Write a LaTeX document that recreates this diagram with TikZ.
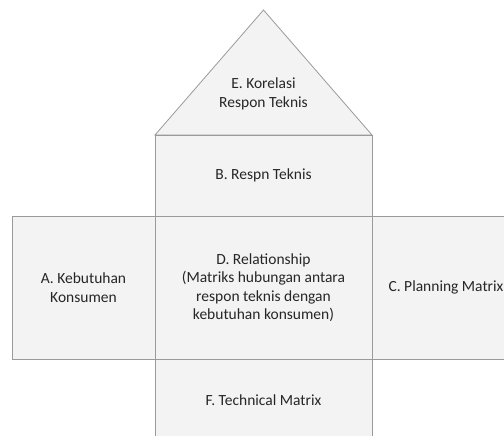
\documentclass[tikz,border=0pt]{standalone}
\usepackage{fontspec}
\setmainfont{Carlito}
\usetikzlibrary{positioning}
\definecolor{HQLine}{HTML}{9A9A9A}
\definecolor{HQFill}{HTML}{F3F3F3}
\definecolor{HQText}{HTML}{262626}

\begin{document}
\begin{tikzpicture}[x=1pt,y=-1pt]
\useasboundingbox (0,0) rectangle (504,436);
\tikzset{hqbox/.style={draw=HQLine,fill=HQFill,line width=0.8pt,outer sep=0pt,inner sep=0pt,align=center,text=HQText,font=\fontsize{15.5}{18.5}\selectfont}}
\node[hqbox,minimum width=217pt,minimum height=143pt] (rel) at (263.5,287.5) {D. Relationship\\(Matriks hubungan antara\\respon teknis dengan\\kebutuhan konsumen)};
\node[hqbox,minimum width=217pt,minimum height=81pt,above=0pt of rel] (resp) {B. Respn Teknis};
\node[hqbox,minimum width=143pt,minimum height=143pt,left=0pt of rel] (need) {A. Kebutuhan\\Konsumen};
\node[hqbox,minimum width=148pt,minimum height=143pt,right=0pt of rel] (plan) {C. Planning Matrix};
\node[hqbox,minimum width=217pt,minimum height=82pt,below=0pt of rel] (tech) {F. Technical Matrix};
\coordinate (apex) at (263.5,10);
\draw[draw=HQLine,fill=HQFill,line width=0.8pt] (resp.north west) -- (apex) -- (resp.north east) -- cycle;
\node[text=HQText,align=center,font=\fontsize{15.5}{18.5}\selectfont] (corr) at (263.5,94) {E. Korelasi\\Respon Teknis};
\end{tikzpicture}
\end{document}
